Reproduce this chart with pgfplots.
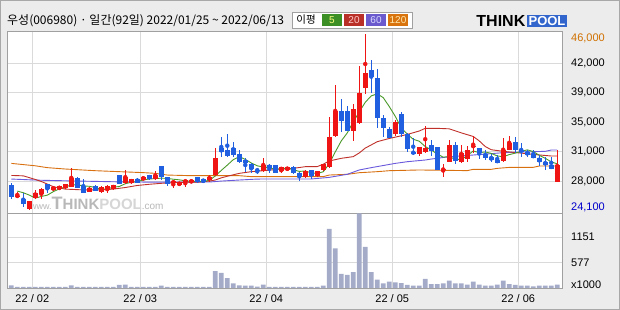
\documentclass[border=0pt]{standalone}
\usepackage{fontspec}
\setmainfont{Liberation Sans}
\newfontfamily\kr{Noto Sans CJK KR}
\usepackage{pgfplots}
\usepackage{pgfplotstable}
\pgfplotsset{compat=1.18}

\definecolor{bgc}{HTML}{ECECEC}
\definecolor{outerc}{HTML}{A8A8A8}
\definecolor{framec}{HTML}{A0A0A0}
\definecolor{gridc}{HTML}{DADADA}
\definecolor{cred}{HTML}{F01515}
\definecolor{cblue}{HTML}{1F5FE0}
\definecolor{maf}{HTML}{4A9A2A}
\definecolor{mat}{HTML}{C0302A}
\definecolor{mas}{HTML}{6A5ADC}
\definecolor{mao}{HTML}{D87010}
\definecolor{volc}{HTML}{A3ABC8}
\definecolor{logoblue}{HTML}{3366CC}
\definecolor{lblorange}{HTML}{D07000}
\definecolor{lblblue}{HTML}{0000CC}
\definecolor{wma}{HTML}{B8B8B8}
\definecolor{wmb}{HTML}{D6D6D6}
\definecolor{lg5}{HTML}{3C8F24}
\definecolor{lg20}{HTML}{B83028}
\definecolor{lg60}{HTML}{6A5ACD}
\definecolor{lg120}{HTML}{D9730D}
\definecolor{lt5}{HTML}{FFFF80}
\definecolor{lt20}{HTML}{FFC8C8}
\definecolor{lt60}{HTML}{D8D8FF}
\definecolor{lt120}{HTML}{FFE8B0}

\pgfplotstableread{
i o h l c
1 25800 26380 25550 25880
3 24200 25260 24100 25260
4 25550 26590 25470 26170
5 26090 26800 25430 26750
7 26590 27040 26500 27000
8 26670 27100 26600 27040
9 26800 27350 26750 27290
10 27000 29280 26920 28040
13 26380 26950 26300 26880
15 26300 27050 26250 27000
16 26590 27210 26170 27090
17 26710 27260 26650 27210
19 27500 29080 27290 28210
20 27420 28000 27370 27960
22 27870 28250 27800 28210
24 27920 28950 27830 28450
27 27420 27790 26800 27710
28 27210 27600 27100 27540
29 27540 27870 27000 27830
30 27540 27870 27460 27790
33 27830 28450 27620 28250
34 28450 31770 28370 30530
42 28950 30530 28870 29700
45 28990 29450 28660 29450
46 29080 29450 29000 29410
49 28250 29080 28040 28990
51 28330 29000 28250 28950
52 29080 29860 29000 29780
53 29490 35710 29280 33140
54 33310 39650 33220 36420
57 33930 37290 32730 36670
58 34920 42020 34840 38660
59 39320 46000 38530 41150
64 33520 35300 33350 35090
68 31110 31980 30820 31900
69 31360 34590 31230 31770
72 29080 29780 28250 29200
73 30030 32810 30030 32190
75 30030 32190 29950 31190
76 30400 32020 30030 31570
77 32000 33310 31150 32080
82 30240 33100 30110 31570
83 31570 33350 31570 32480
91 27580 31560 27580 29700
}\up

\pgfplotstableread{
i o h l c
0 27210 27420 25470 25760
2 25470 26260 24510 24850
6 27290 27330 26260 26710
11 28040 28250 26800 26880
12 27090 27960 26170 26170
14 27090 27150 26420 26500
18 28450 28500 27290 27330
21 28000 28050 27450 27500
23 28450 28500 27870 27920
25 29570 29570 27830 28250
26 28160 28250 27090 27330
31 28160 28200 27500 27540
32 27960 28000 27460 27540
35 31770 33140 30740 31270
36 31520 33560 30650 30820
37 31770 32560 30740 30940
38 31030 31610 29990 30110
39 30320 30530 28870 29910
40 29780 29910 28660 29200
41 29120 29280 28540 28990
43 29700 29780 28660 29280
44 29700 29700 28660 28740
47 29450 29570 28540 28660
48 28700 28870 27710 28250
50 29040 29040 27960 28330
55 36420 37910 33850 35170
56 36420 37040 33930 33930
60 41520 42770 38620 40690
61 40570 41690 34340 35590
62 35550 35920 33220 34340
63 34180 34470 33100 33100
65 36000 36250 33220 33520
66 33560 33640 31360 31690
67 31360 33020 30940 31110
70 32190 32810 30860 31440
71 31940 31940 29080 29080
74 32190 32600 29780 30200
78 31810 31810 30450 31150
79 31070 31570 30320 30610
80 30690 31110 30030 30320
81 30360 30940 29950 29990
84 32560 33220 31230 31520
85 31520 32400 30740 31400
86 31360 31570 30740 30940
87 31070 31570 30530 30530
88 30610 30940 29620 30110
89 30110 30740 29080 29700
90 29700 30740 29200 29200
}\dn

\pgfplotstableread{
i v
0 60
1 25
2 25
3 25
4 25
5 25
6 25
7 25
8 25
9 25
10 60
11 25
12 25
13 25
14 25
15 25
16 25
17 25
18 68
19 75
20 25
21 25
22 25
23 25
24 25
25 53
26 25
27 25
28 25
29 25
30 25
31 25
32 25
33 25
34 380
35 340
36 225
37 105
38 60
39 53
40 53
41 30
42 75
43 25
44 25
45 25
46 25
47 25
48 25
49 25
50 25
51 25
52 53
53 1340
54 900
55 320
56 300
57 360
58 1690
59 930
60 360
61 190
62 105
63 145
64 128
65 113
66 68
67 53
68 53
69 205
70 90
71 90
72 105
73 166
74 105
75 105
76 75
77 145
78 75
79 53
80 53
81 75
82 166
83 90
84 68
85 53
86 53
87 38
88 53
89 53
90 53
91 75
}\vol

\begin{document}
\begin{tikzpicture}
\fill[bgc] (0,0) rectangle (620pt,310pt);
\draw[outerc, line width=1pt] (0.5pt,0.5pt) rectangle (619.5pt,309.5pt);
\fill[white] (7.3pt,22pt) rectangle (562pt,279pt);
% watermark
\node[anchor=base west, inner sep=0pt] at (30pt,100pt) {{\color{wma}\fontsize{9}{9}\selectfont www.}{\color{wma}\fontsize{18}{18}\selectfont\bfseries T\fontsize{15}{15}\selectfont HINK}{\color{wmb}\fontsize{15}{15}\selectfont\bfseries POOL}{\color{wma}\fontsize{10}{10}\selectfont .com}};

\begin{axis}[
  at={(7.3pt,97pt)}, anchor=south west, scale only axis,
  width=554.7pt, height=182pt,
  xmin=-0.67, xmax=91.8, ymin=23727, ymax=46373,
  axis line style={draw=framec, line width=0.8pt},
  xtick={3.5,21.5,42.5,63.5,84.5}, xticklabels={},
  ytick={27707,31357,34966,38700,42350},
  yticklabels={{28,000},{31,000},{35,000},{39,000},{42,000}},
  extra y ticks={24474,45502},
  extra y tick labels={{\textcolor{lblblue}{24,100}},{\textcolor{lblorange}{46,000}}},
  extra y tick style={grid=none},
  yticklabel pos=right,
  grid=major, major grid style={draw=gridc, line width=1pt},
  tick style={draw=none}, major tick length=0pt,
  yticklabel style={anchor=west, inner sep=0pt, xshift=9pt, font=\fontsize{11}{11}\selectfont},
]
\addplot[mao, line width=0.9pt] coordinates {(0,29900)(4,29600)(6,29370)(9,29200)(14,28990)(18,28870)(22,28750)(24,28660)(26,28450)(30,28370)(38,28370)(40,28250)(52,28250)(53,28450)(56,28540)(58,28740)(61,28870)(63,28990)(68,29080)(76,29000)(77,29160)(80,29160)(81,29280)(83,29400)(87,29410)(88,29570)(91,29570)};
\addplot[mas, line width=0.9pt] coordinates {(0,27950)(5,27800)(10,27720)(18,27600)(25,27560)(33,27580)(35,27700)(38,27830)(41,27950)(45,27960)(50,27960)(53,28160)(56,28540)(58,29080)(60,29370)(64,29900)(66,30110)(69,30320)(70,30440)(73,30730)(77,30940)(82,31230)(87,31360)(89,31400)(90,31560)(91,31560)};
\addplot[mat, line width=0.9pt] coordinates {(0,28400)(2,28350)(4,27900)(5,27650)(7,27000)(9,26700)(12,26600)(15,26600)(17,26700)(19,26900)(21,27150)(23,27300)(25,27420)(28,27540)(31,27560)(33,27700)(34,27830)(35,28100)(36,28300)(38,28660)(40,28870)(42,28990)(45,29200)(47,29280)(49,29490)(51,29500)(52,29800)(53,30200)(55,30530)(57,30740)(58,31200)(59,31800)(60,32200)(61,32600)(63,33000)(66,33500)(68,33930)(69,34260)(71,34260)(73,34200)(75,33700)(77,33250)(78,32700)(79,32000)(80,31600)(82,31400)(84,31250)(86,31100)(88,30950)(90,30820)(91,30820)};
\addplot[maf, line width=0.9pt] coordinates {(1,26450)(2,26250)(3,25950)(4,25583)(5,25782)(6,25949)(7,26380)(8,26737)(9,26961)(10,27218)(11,27251)(12,27085)(13,27052)(14,26894)(15,26686)(16,26728)(17,26935)(18,27026)(19,27367)(20,27558)(21,27641)(22,27840)(23,27956)(24,28006)(25,28064)(26,28031)(27,27931)(28,27856)(29,27732)(30,27641)(31,27682)(32,27648)(33,27790)(34,28329)(35,29026)(36,29681)(37,30362)(38,30735)(39,30400)(40,29950)(41,29600)(42,29450)(43,29350)(44,29184)(45,29234)(46,29316)(47,29109)(48,28901)(49,28951)(50,28727)(51,28636)(52,28861)(53,29840)(54,31324)(55,32693)(56,33689)(57,35066)(58,36300)(59,37500)(60,38300)(61,38550)(62,38086)(63,36974)(64,35763)(65,34328)(66,33548)(67,32901)(68,32660)(69,31997)(70,31582)(71,31059)(72,30677)(73,30735)(74,30420)(75,30370)(76,30868)(77,31444)(78,31237)(79,31320)(80,31145)(81,30830)(82,30727)(83,30993)(84,31175)(85,31391)(86,31584)(87,31376)(88,30903)(89,30538)(90,30098)(91,29849)};
% wicks
\addplot[cred, only marks, mark=none, error bars/.cd, y dir=both, y explicit, error mark=none, error bar style={draw=cred, line width=1pt}]
  table[x=i, y expr={(\thisrow{h}+\thisrow{l})/2}, y error expr={(\thisrow{h}-\thisrow{l})/2}] \up;
\addplot[cblue, only marks, mark=none, error bars/.cd, y dir=both, y explicit, error mark=none, error bar style={draw=cblue, line width=1pt}]
  table[x=i, y expr={(\thisrow{h}+\thisrow{l})/2}, y error expr={(\thisrow{h}-\thisrow{l})/2}] \dn;
% bodies
\addplot[cred, only marks, mark=none, error bars/.cd, y dir=both, y explicit, error mark=none, error bar style={draw=cred, line width=4.7pt}]
  table[x=i, y expr={(\thisrow{o}+\thisrow{c})/2}, y error expr={max(abs(\thisrow{c}-\thisrow{o})/2,60)}] \up;
\addplot[cblue, only marks, mark=none, error bars/.cd, y dir=both, y explicit, error mark=none, error bar style={draw=cblue, line width=4.7pt}]
  table[x=i, y expr={(\thisrow{o}+\thisrow{c})/2}, y error expr={max(abs(\thisrow{c}-\thisrow{o})/2,60)}] \dn;
\end{axis}

\begin{axis}[
  at={(7.3pt,22pt)}, anchor=south west, scale only axis,
  width=554.7pt, height=75pt,
  xmin=-0.67, xmax=91.8, ymin=0, ymax=1700,
  axis line style={draw=framec, line width=0.8pt},
  xtick={3.5,21.5,42.5,63.5,84.5},
  xticklabels={22 / 02,22 / 03,22 / 04,22 / 05,22 / 06},
  ytick={577,1151}, yticklabels={577,1151},
  extra y ticks={68}, extra y tick labels={x1000}, extra y tick style={grid=none},
  yticklabel pos=right,
  grid=major, major grid style={draw=gridc, line width=1pt},
  tick style={draw=none}, major tick length=0pt,
  yticklabel style={anchor=west, inner sep=0pt, xshift=9pt, font=\fontsize{11}{11}\selectfont},
  xticklabel style={anchor=north, inner sep=0pt, yshift=-6pt, font=\fontsize{11}{11}\selectfont},
]
\addplot[ybar, bar width=4.7pt, fill=volc, draw=none] table[x=i, y=v] \vol;
\end{axis}

% title
\node[anchor=west, inner sep=0pt] at (7pt,289pt) {\kr\fontsize{12}{14}\selectfont 우성(006980) · 일간(92일) 2022/01/25 \char"7E{} 2022/06/13};
% legend
\draw[fill=white, draw=framec] (292pt,282pt) rectangle (412pt,298pt);
\node[inner sep=0pt] at (306pt,290pt) {\kr\fontsize{10.5}{10.5}\selectfont 이평};
\fill[lg5] (322pt,284pt) rectangle (342pt,296pt);
\node[inner sep=0pt, text=lt5] at (332pt,290pt) {\fontsize{10}{10}\selectfont 5};
\fill[lg20] (344pt,284pt) rectangle (364pt,296pt);
\node[inner sep=0pt, text=lt20] at (354pt,290pt) {\fontsize{10}{10}\selectfont 20};
\fill[lg60] (366pt,284pt) rectangle (386pt,296pt);
\node[inner sep=0pt, text=lt60] at (376pt,290pt) {\fontsize{10}{10}\selectfont 60};
\fill[lg120] (388pt,284pt) rectangle (408pt,296pt);
\node[inner sep=0pt, text=lt120] at (398pt,290pt) {\fontsize{10}{10}\selectfont 120};
% logo
\node[anchor=east, inner sep=0pt] at (525.5pt,289pt) {\bfseries\fontsize{16}{16}\selectfont THINK};
\fill[logoblue] (527pt,283pt) rectangle (567pt,295pt);
\node[inner sep=0pt, text=white] at (547pt,289pt) {\bfseries\fontsize{13}{13}\selectfont POOL};
\end{tikzpicture}
\end{document}
